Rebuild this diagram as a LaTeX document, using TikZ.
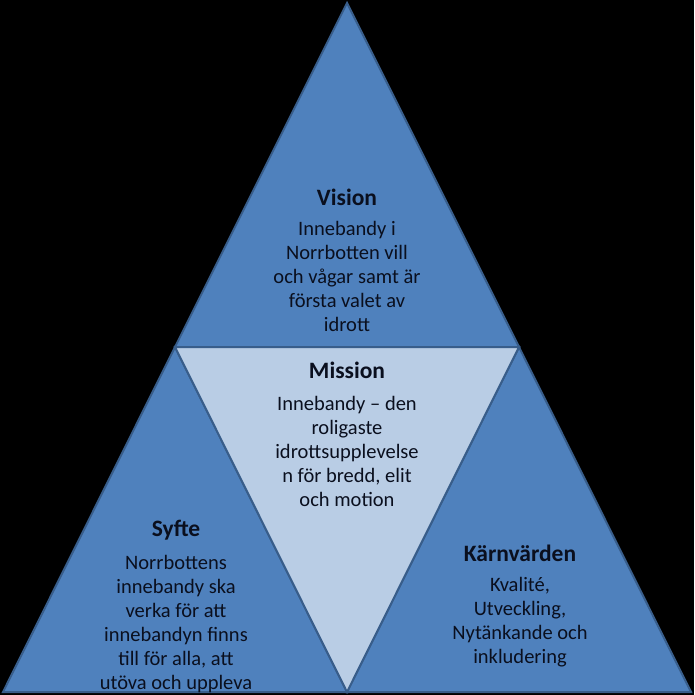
\documentclass[tikz,border=0pt]{standalone}
\usepackage{fontspec}
\setmainfont{Carlito}
\definecolor{tribody}{HTML}{4F81BD}
\definecolor{triline}{HTML}{385D8A}
\definecolor{trimid}{HTML}{B9CDE5}
\definecolor{tritext}{HTML}{0A0F1E}
\tikzset{
  tri/.style={fill=tribody, draw=triline, line width=2pt, line join=miter},
  title/.style={font=\fontsize{23.5}{26}\selectfont\bfseries, text=tritext, anchor=center},
  body/.style={font=\fontsize{20.5}{24}\selectfont, text=tritext, align=center, anchor=north}
}

\begin{document}
\begin{tikzpicture}[x=1pt, y=-1pt]

\fill[black] (0,0) rectangle (694,695);
\useasboundingbox (0,0) rectangle (694,695);

% corners
\coordinate (top) at (347,3);
\coordinate (bl) at (3,692);
\coordinate (br) at (691,692);
\coordinate (ml) at (175,347);
\coordinate (mr) at (519,347);
\coordinate (mb) at (347,692);

\draw[tri] (top) -- (mr) -- (ml) -- cycle;
\draw[tri] (ml) -- (mb) -- (bl) -- cycle;
\draw[tri] (mr) -- (br) -- (mb) -- cycle;
\draw[tri, fill=trimid] (ml) -- (mr) -- (mb) -- cycle;

\node[title] (vision) at (347,197) {Vision};
\node[body] (visiontxt) at (347,218) {Innebandy i\\Norrbotten vill\\och vågar samt är\\första valet av\\idrott};

\node[title] (mission) at (347,370) {Mission};
\node[body] (missiontxt) at (347,393) {Innebandy -- den\\roligaste\\idrottsupplevelse\\n för bredd, elit\\och motion};

\node[title] (syfte) at (176,530) {Syfte};
\node[body] (syftetxt) at (176,552) {Norrbottens\\innebandy ska\\verka för att\\innebandyn finns\\till för alla, att\\utöva och uppleva};

\node[title] (karn) at (520,553) {Kärnvärden};
\node[body] (karntxt) at (520,574) {Kvalité,\\Utveckling,\\Nytänkande och\\inkludering};

\end{tikzpicture}
\end{document}
